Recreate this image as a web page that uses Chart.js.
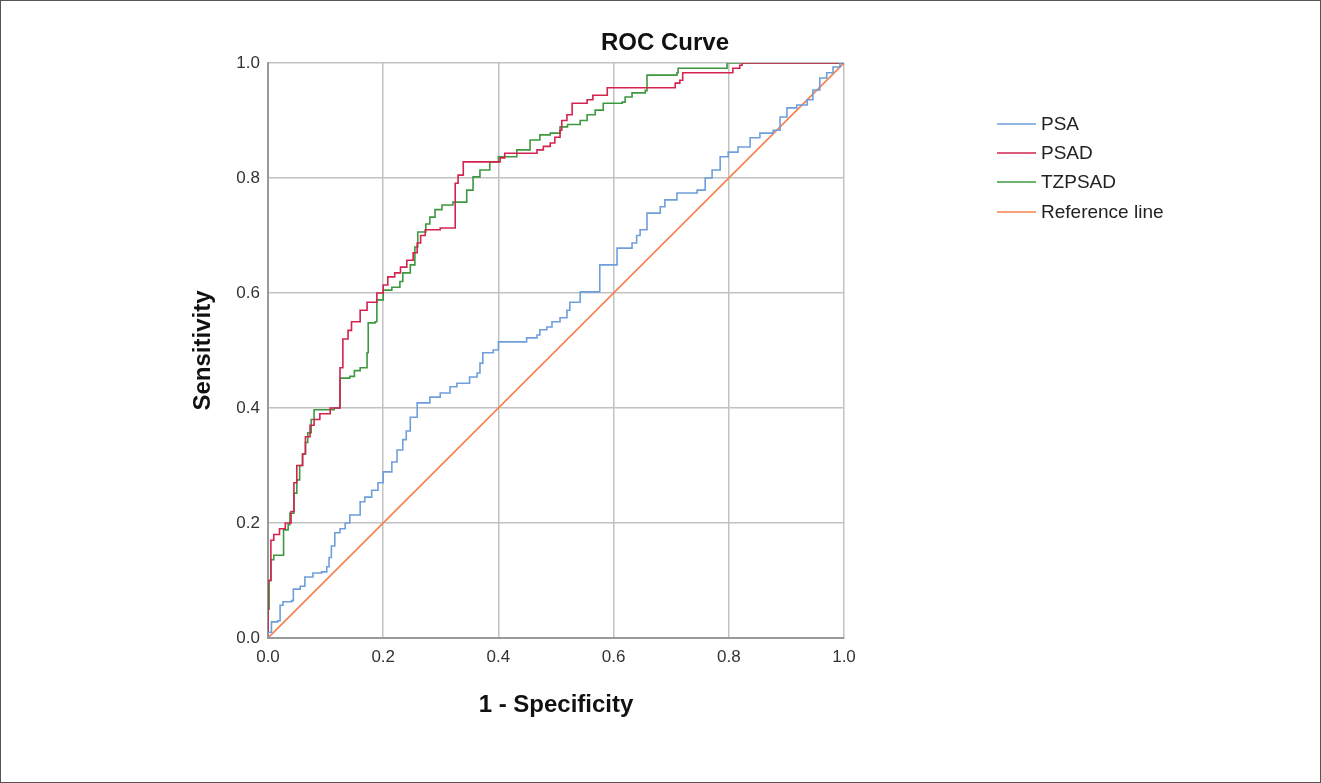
<!DOCTYPE html>
<html><head><meta charset="utf-8">
<script src="https://cdn.jsdelivr.net/npm/chart.js@4.4.1/dist/chart.umd.min.js"></script>
<style>
html,body{margin:0;padding:0;background:#fff;}
#wrap{position:absolute;left:0;top:0;width:1319px;height:781px;border:1px solid #555;background:#fff;}
canvas{display:block;}
</style></head><body>
<div id="wrap"><canvas id="c" width="1319" height="781"></canvas></div>
<script>
const chartTitle = 'ROC Curve';
const xAxisTitle = '1 - Specificity';
const yAxisTitle = 'Sensitivity';
const tickLabels = ['0.0','0.2','0.4','0.6','0.8','1.0'];
const seriesNames = ['PSA','PSAD','TZPSAD','Reference line'];
const seriesColors = ['#6e9fdb','#d3234f','#3d983f','#f3824f'];

const psaFpr = [0,0,0.006,0.017,0.021,0.026,0.041,0.044,0.056,0.064,0.078,0.093,0.102,0.106,0.11,0.116,0.125,0.134,0.142,0.16,0.168,0.18,0.191,0.2,0.215,0.224,0.234,0.24,0.247,0.259,0.281,0.299,0.316,0.328,0.342,0.35,0.363,0.368,0.373,0.391,0.4,0.443,0.449,0.467,0.472,0.484,0.493,0.507,0.519,0.524,0.542,0.571,0.576,0.599,0.606,0.627,0.632,0.64,0.646,0.658,0.681,0.689,0.71,0.745,0.759,0.771,0.785,0.799,0.816,0.837,0.854,0.877,0.889,0.901,0.918,0.936,0.946,0.958,0.97,0.981,0.993,1];
const psaTpr = [0,0.01,0.028,0.03,0.057,0.063,0.065,0.085,0.09,0.106,0.113,0.115,0.124,0.14,0.16,0.183,0.19,0.2,0.214,0.237,0.245,0.257,0.27,0.289,0.306,0.327,0.345,0.36,0.384,0.409,0.419,0.426,0.437,0.443,0.443,0.454,0.461,0.478,0.496,0.501,0.515,0.515,0.522,0.527,0.536,0.541,0.55,0.557,0.57,0.584,0.602,0.602,0.649,0.649,0.678,0.678,0.687,0.7,0.71,0.739,0.75,0.762,0.774,0.779,0.8,0.814,0.837,0.845,0.854,0.87,0.878,0.883,0.906,0.922,0.927,0.936,0.953,0.974,0.983,0.993,1,1];

const psadFpr = [0,0,0.005,0.01,0.02,0.03,0.04,0.045,0.05,0.06,0.065,0.073,0.08,0.09,0.108,0.125,0.125,0.13,0.139,0.145,0.16,0.172,0.189,0.2,0.208,0.22,0.23,0.241,0.252,0.259,0.265,0.273,0.299,0.319,0.325,0.33,0.339,0.398,0.403,0.411,0.467,0.478,0.49,0.498,0.507,0.51,0.519,0.528,0.554,0.564,0.589,0.703,0.707,0.715,0.72,0.806,0.807,0.819,0.823,1];
const psadTpr = [0,0.1,0.17,0.18,0.19,0.2,0.22,0.27,0.3,0.32,0.35,0.37,0.38,0.39,0.4,0.41,0.47,0.52,0.535,0.55,0.57,0.584,0.6,0.614,0.628,0.635,0.645,0.657,0.67,0.687,0.7,0.71,0.713,0.713,0.791,0.805,0.828,0.828,0.835,0.843,0.849,0.855,0.861,0.871,0.883,0.9,0.91,0.93,0.936,0.944,0.957,0.957,0.965,0.97,0.983,0.983,0.991,0.996,1,1];

const tzpsadFpr = [0,0,0.002,0.005,0.01,0.025,0.027,0.035,0.038,0.045,0.05,0.055,0.06,0.065,0.069,0.075,0.08,0.115,0.125,0.142,0.15,0.16,0.172,0.174,0.186,0.189,0.2,0.215,0.229,0.234,0.247,0.255,0.26,0.274,0.281,0.29,0.302,0.321,0.34,0.345,0.356,0.368,0.385,0.4,0.432,0.455,0.472,0.49,0.507,0.52,0.542,0.554,0.568,0.582,0.615,0.62,0.632,0.646,0.655,0.658,0.71,0.712,0.793,0.797,1];
const tzpsadTpr = [0,0.05,0.1,0.136,0.144,0.144,0.188,0.197,0.217,0.252,0.275,0.3,0.32,0.34,0.357,0.38,0.397,0.4,0.452,0.455,0.465,0.47,0.496,0.548,0.55,0.588,0.605,0.61,0.62,0.635,0.649,0.68,0.706,0.72,0.732,0.745,0.753,0.758,0.758,0.779,0.802,0.814,0.828,0.837,0.849,0.866,0.875,0.878,0.889,0.893,0.9,0.91,0.918,0.93,0.932,0.941,0.948,0.948,0.952,0.979,0.983,0.991,0.991,1,1];

const refFpr = [0,1];
const refTpr = [0,1];

const legendRowsY = [123,152,181,211];

function pts(xs, ys){ return xs.map((x,i)=>({x:x, y:ys[i]})); }

const FONT = "'Liberation Sans', Arial, sans-serif";

const overlayPlugin = {
  id:'overlay',
  afterDraw(chart){
    const ctx = chart.ctx;
    ctx.save();
    ctx.fillStyle = '#111';
    ctx.font = "bold 24px " + FONT;
    ctx.textAlign = 'center';
    ctx.textBaseline = 'middle';
    ctx.fillText(chartTitle, 664, 42);
    ctx.font = "19px " + FONT;
    ctx.textAlign = 'left';
    chart.data.datasets.forEach((ds,i)=>{
      const y = legendRowsY[i];
      ctx.strokeStyle = ds.borderColor;
      ctx.lineWidth = 1.5;
      ctx.beginPath(); ctx.moveTo(996,y); ctx.lineTo(1035,y); ctx.stroke();
      ctx.fillStyle = '#222';
      ctx.fillText(ds.label, 1040, y+1);
    });
    ctx.restore();
  }
};

const datasets = [
  {label:seriesNames[0], data:pts(psaFpr,psaTpr), borderColor:seriesColors[0], stepped:'before'},
  {label:seriesNames[1], data:pts(psadFpr,psadTpr), borderColor:seriesColors[1], stepped:'before'},
  {label:seriesNames[2], data:pts(tzpsadFpr,tzpsadTpr), borderColor:seriesColors[2], stepped:'before'},
  {label:seriesNames[3], data:pts(refFpr,refTpr), borderColor:seriesColors[3], stepped:false}
].map(d=>Object.assign({showLine:true, pointRadius:0, pointHoverRadius:0, borderWidth:1.6, fill:false}, d));

new Chart(document.getElementById('c'), {
  type:'scatter',
  data:{datasets},
  options:{
    responsive:false, animation:false, events:[],
    layout:{padding:{top:62,right:476,bottom:0,left:0}},
    plugins:{legend:{display:false}, title:{display:false}, tooltip:{enabled:false}},
    scales:{
      x:{type:'linear', min:0, max:1,
        ticks:{stepSize:0.2, padding:9, color:'#333', font:{family:FONT,size:17}, callback:(v,i)=>tickLabels[i], maxRotation:0},
        grid:{color:'#c2c2c2', lineWidth:1.5, drawTicks:false},
        border:{color:'#999', width:2},
        title:{display:true, text:xAxisTitle, color:'#111', font:{family:FONT,size:24,weight:'bold'}, padding:{top:0,bottom:62}},
        afterFit:(s)=>{ s.height = 144; }
      },
      y:{type:'linear', min:0, max:1,
        ticks:{stepSize:0.2, padding:8, color:'#333', font:{family:FONT,size:17}, callback:(v,i)=>tickLabels[i]},
        grid:{color:'#c2c2c2', lineWidth:1.5, drawTicks:false},
        border:{color:'#999', width:2},
        title:{display:true, text:yAxisTitle, color:'#111', font:{family:FONT,size:24,weight:'bold'}, padding:{top:188,bottom:0}},
        afterFit:(s)=>{ s.width = 267; }
      }
    }
  },
  plugins:[overlayPlugin]
});
</script>
</body></html>
